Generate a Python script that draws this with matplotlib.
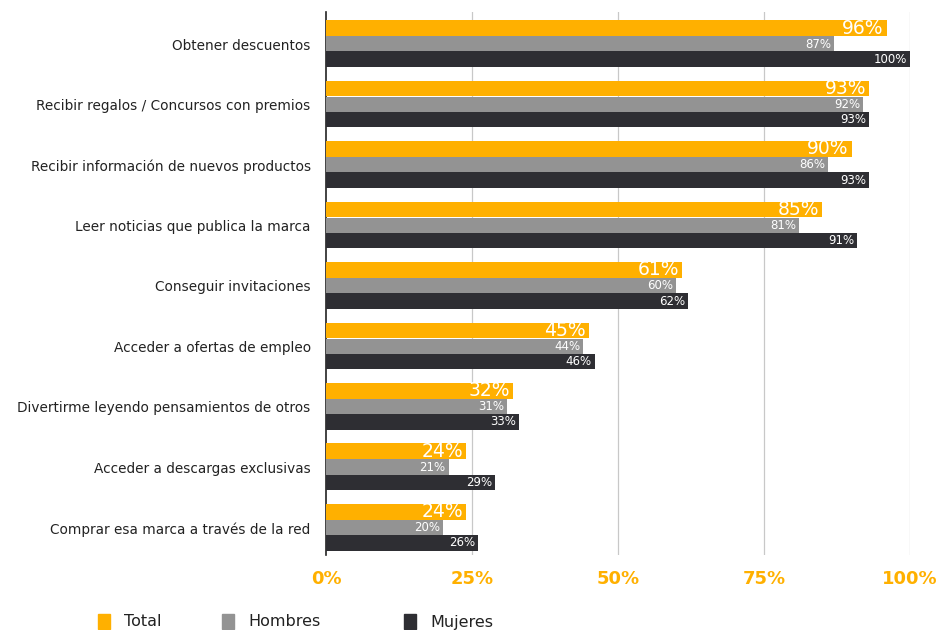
import numpy as np
import matplotlib.pyplot as plt
from matplotlib.patches import Rectangle

categories = [
    'Obtener descuentos',
    'Recibir regalos / Concursos con premios',
    'Recibir información de nuevos productos',
    'Leer noticias que publica la marca',
    'Conseguir invitaciones',
    'Acceder a ofertas de empleo',
    'Divertirme leyendo pensamientos de otros',
    'Acceder a descargas exclusivas',
    'Comprar esa marca a través de la red',
]
total = [96, 93, 90, 85, 61, 45, 32, 24, 24]
hombres = [87, 92, 86, 81, 60, 44, 31, 21, 20]
mujeres = [100, 93, 93, 91, 62, 46, 33, 29, 26]
ticks = [0, 25, 50, 75, 100]
series_names = ['Total', 'Hombres', 'Mujeres']

c_total = '#ffb000'
c_homb = '#939393'
c_muj = '#2e2e33'

fig = plt.figure(figsize=(9.4, 6.3), dpi=100)
ax = fig.add_axes([326 / 940, 1 - 555 / 630, 584 / 940, 543 / 630])

y = np.arange(len(categories))
h = 0.26
series = [(total, c_total, -0.265, 13.5), (hombres, c_homb, 0.0, 8.5), (mujeres, c_muj, 0.25, 8.5)]
for vals, col, off, fs in series:
    ax.barh(y + off, vals, height=h, color=col, zorder=3)
    for yi, v in zip(y, vals):
        ax.text(v - 0.5, yi + off, f'{v}%', ha='right', va='center', color='white',
                fontsize=fs, zorder=4)

ax.set_xlim(0, 100)
ax.set_ylim(8.45, -0.53)
ax.set_yticks(y)
ax.set_yticklabels(categories, fontsize=9.8, color='#222222')
ax.set_xticks(ticks)
ax.set_xticklabels([f'{t}%' for t in ticks], fontsize=13, fontweight='bold', color=c_total)
ax.tick_params(axis='y', length=0, pad=11)
ax.tick_params(axis='x', length=0, pad=11)
for t in ticks[1:]:
    ax.axvline(t, color='#c8c8c8', lw=0.9, zorder=1)
for s in ['top', 'right', 'bottom']:
    ax.spines[s].set_visible(False)
ax.spines['left'].set_color('#222222')
ax.spines['left'].set_linewidth(1.2)

# legend drawn by hand to match the uneven spacing
leg_x = [98, 222, 404]
for name, col, lx in zip(series_names, [c_total, c_homb, c_muj], leg_x):
    fig.add_artist(Rectangle((lx / 940, 1 - 629 / 630), 12 / 940, 15 / 630,
                             transform=fig.transFigure, color=col))
    fig.text((lx + 26) / 940, 1 - 622 / 630, name, fontsize=11.5, va='center', color='#222222')

fig.savefig('out.png', dpi=100)
